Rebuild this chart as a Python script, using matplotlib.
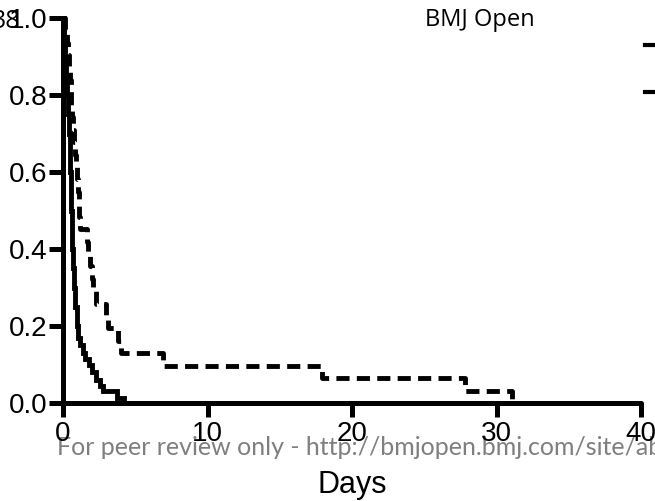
import matplotlib
matplotlib.use("Agg")
import matplotlib.pyplot as plt
from matplotlib.lines import Line2D

# Kaplan-Meier style step data (days, proportion)
solid_days = [0, 0.08, 0.15, 0.22, 0.3, 0.36, 0.42, 0.45, 0.48, 0.52, 0.55,
              0.59, 0.63, 0.69, 0.75, 0.85, 0.95, 1.05, 1.15, 1.35, 1.55, 1.8,
              2.0, 2.3, 2.55, 2.8, 3.75, 4.2]
solid_surv = [1.0, 0.95, 0.90, 0.85, 0.80, 0.75, 0.70, 0.65, 0.60, 0.55, 0.50,
              0.45, 0.40, 0.35, 0.30, 0.25, 0.20, 0.17, 0.15, 0.13, 0.115, 0.10,
              0.08, 0.06, 0.045, 0.03, 0.013, 0.0]

dashed_days = [0, 0.15, 0.25, 0.33, 0.4, 0.46, 0.52, 0.58, 0.65, 0.72, 0.78,
               0.84, 0.9, 0.97, 1.03, 1.08, 1.14, 1.2, 1.65, 1.75, 1.9, 2.0,
               2.1, 2.25, 3.0, 3.1, 3.8, 4.0, 6.9, 17.9, 27.8, 31.1]
dashed_surv = [1.0, 0.968, 0.935, 0.903, 0.871, 0.839, 0.806, 0.774, 0.742,
               0.710, 0.677, 0.645, 0.613, 0.581, 0.548, 0.516, 0.484, 0.452,
               0.419, 0.387, 0.355, 0.323, 0.290, 0.258, 0.226, 0.194, 0.161,
               0.129, 0.097, 0.065, 0.032, 0.0]

x_ticks = [0, 10, 20, 30, 40]
y_ticks = [0.0, 0.2, 0.4, 0.6, 0.8, 1.0]

W, H = 655, 501
fig = plt.figure(figsize=(W / 100, H / 100), dpi=100)
ax = fig.add_axes([63 / W, 1 - 403 / H, (641 - 63) / W, (403 - 18) / H])
ax.patch.set_visible(False)

lw = 3.5
ax.step(solid_days, solid_surv, where="post", color="black", lw=lw,
        solid_joinstyle="miter", clip_on=False, zorder=3)
ax.step(dashed_days, dashed_surv, where="post", color="black", lw=lw,
        dashes=(2.7, 1.5), dash_capstyle="butt", clip_on=False, zorder=3)

ax.set_xlim(0, 40)
ax.set_ylim(0, 1.0)
ax.set_xticks(x_ticks)
ax.set_yticks(y_ticks)
ax.set_xticklabels([str(t) for t in x_ticks])
ax.set_yticklabels([f"{t:.1f}" for t in y_ticks])

for s in ["top", "right"]:
    ax.spines[s].set_visible(False)
for s in ["left", "bottom"]:
    ax.spines[s].set_linewidth(3.6)
    ax.spines[s].set_capstyle("round")
ax.tick_params(width=3.6, length=10, labelsize=20, color="black")
ax.tick_params(axis="y", pad=1.5)
ax.tick_params(axis="x", pad=3)
for lab in ax.get_xticklabels() + ax.get_yticklabels():
    lab.set_fontfamily("Liberation Sans")

# page furniture from the cropped PDF
fig.text(425 / W, 1 - 26 / H, "BMJ Open", fontsize=17, family="Open Sans",
         va="baseline", ha="left")
fig.text(20 / W, 1 - 28 / H, "38", fontsize=18, family="Open Sans",
         va="baseline", ha="right", zorder=-1)
fig.text(57 / W, 1 - 455 / H,
         "For peer review only - http://bmjopen.bmj.com/site/about/guidelines.xhtml",
         fontsize=18, family="Lato", color="#7f7f7f",
         va="baseline", ha="left", zorder=-1)
fig.text(352 / W, 1 - 485 / H, "Days", fontsize=22, family="Liberation Sans",
         ha="center", va="center")

# cropped legend handles at the right edge
for yp in [45, 92]:
    fig.add_artist(Line2D([645 / W, 1.0], [1 - yp / H, 1 - yp / H],
                          transform=fig.transFigure, color="black", lw=3))

fig.savefig("out.png", dpi=100)
